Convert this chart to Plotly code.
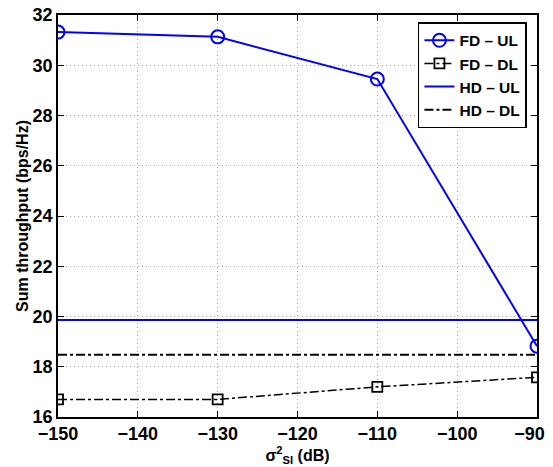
import plotly.graph_objects as go

x = [-150, -130, -110, -90]
fd_ul = [31.32, 31.13, 29.45, 18.82]
fd_dl = [16.7, 16.7, 17.2, 17.58]
hd_ul = [19.86, 19.86]
hd_dl = [18.48, 18.48]
hd_x = [-150, -90]
xticks = [-150, -140, -130, -120, -110, -100, -90]
xticktext = ["−150", "−140", "−130", "−120", "−110", "−100", "−90&nbsp;&nbsp;&nbsp;"]
yticks = [16, 18, 20, 22, 24, 26, 28, 30, 32]

FAM = "Liberation Sans, Arial, sans-serif"
font = dict(family=FAM, size=18, color="black", weight="bold")

fig = go.Figure()
fig.add_trace(go.Scatter(x=x, y=fd_ul, name="FD – UL", mode="lines+markers",
                         line=dict(color="#0000ff", width=2),
                         marker=dict(symbol="circle-open", size=13, color="#0000ff", line=dict(width=2))))
fig.add_trace(go.Scatter(x=x, y=fd_dl, name="FD – DL", mode="lines+markers",
                         line=dict(color="black", width=1.5, dash="dashdot"),
                         marker=dict(symbol="square-open", size=10, color="black", line=dict(width=1.8))))
fig.add_trace(go.Scatter(x=hd_x, y=hd_ul, name="HD – UL", mode="lines",
                         line=dict(color="#0000ff", width=2)))
fig.add_trace(go.Scatter(x=hd_x, y=hd_dl, name="HD – DL", mode="lines",
                         line=dict(color="black", width=2, dash="dashdot")))

axis_common = dict(showline=True, mirror="ticks", linecolor="black", linewidth=1.5,
                   ticks="inside", ticklen=6, tickcolor="black",
                   showgrid=True, gridcolor="#a8a8a8", griddash="1px,3px", gridwidth=1,
                   zeroline=False, tickfont=font, automargin=False,
                   ticklabeloverflow="allow")

fig.update_xaxes(range=[-150, -90], tickvals=xticks, ticktext=xticktext,
                 title=dict(text="σ<sup>2</sup><sub>SI</sub> (dB)", font=dict(family=FAM, size=16, color="black", weight="bold"), standoff=3),
                 **axis_common)
fig.update_yaxes(range=[16, 32], tickvals=yticks,
                 title=dict(text="Sum throughput (bps/Hz)", font=dict(family=FAM, size=16, color="black", weight="bold"), standoff=0),
                 **axis_common)

fig.update_layout(width=545, height=459,
                  margin=dict(l=50, r=16, t=7, b=50),
                  plot_bgcolor="white", paper_bgcolor="white",
                  font=font,
                  legend=dict(x=0.979, y=0.982, xanchor="right", yanchor="top",
                              bgcolor="white", bordercolor="black", borderwidth=1.5,
                              font=dict(family=FAM, size=15.5, color="black", weight="bold"),
                              tracegroupgap=0, itemwidth=30))

fig.write_html("out.html")
